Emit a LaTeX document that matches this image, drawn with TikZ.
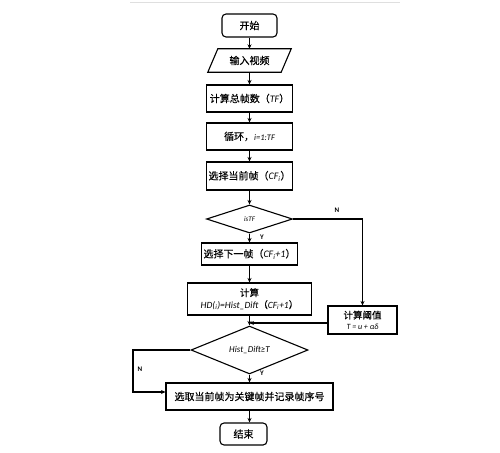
\documentclass[tikz,border=0pt]{standalone}
\usepackage{fontspec}
\setmainfont{Carlito}
\newfontfamily\cjk[FakeBold=0.25]{Noto Sans CJK SC}
\newcommand{\mylat}[1]{{\normalfont\itshape #1}}
\usetikzlibrary{shapes.geometric,arrows.meta}
\begin{document}
\begin{tikzpicture}[x=1pt,y=-1pt,
  ln/.style={line width=1.1pt},
  arr/.style={ln,-{Stealth[length=4.5pt,width=4pt]}},
  box/.style={draw,ln,inner sep=1pt,align=center,font=\cjk\fontsize{10}{12}\selectfont},
  rbox/.style={box,rounded corners=4pt},
  dia/.style={draw,ln,diamond,inner sep=0pt,align=center},
  lbl/.style={font=\fontsize{7}{8}\selectfont\bfseries,inner sep=1pt}]
\useasboundingbox (0,0) rectangle (500,452);
\fill[white] (0,0) rectangle (500,452);
\draw[gray!25,line width=1pt] (130,3) -- (400,3);
% nodes
\node[rbox,minimum width=55pt,minimum height=23pt] (start) at (249.5,25.5) {开始};
\node[minimum width=83pt,minimum height=23pt,inner sep=0pt,font=\cjk\fontsize{10}{12}\selectfont] (input) at (249.5,60.5) {输入视频};
\draw[ln] ([xshift=10pt]input.north west) -- (input.north east) -- ([xshift=-10pt]input.south east) -- (input.south west) -- cycle;
\node[box,minimum width=86pt,minimum height=27pt] (tf) at (249.5,98.5) {计算总帧数（\mylat{TF}）};
\node[box,minimum width=86pt,minimum height=27pt] (loop) at (249.5,136.5) {循环，\mylat{\fontsize{8.5}{10}\selectfont i=1:TF}};
\node[box,minimum width=86pt,minimum height=28pt] (cur) at (249.5,176) {选择当前帧（\mylat{CF\textsubscript{i}}）};
\node[dia,minimum width=86pt,minimum height=28pt,font=\fontsize{7}{8}\selectfont\itshape] (d1) at (249.5,219) {isTF};
\node[box,minimum width=96pt,minimum height=22pt] (next) at (249.5,254) {选择下一帧（\mylat{CF\textsubscript{i}+1}）};
\node[box,minimum width=124pt,minimum height=32pt,font=\cjk\fontsize{9.5}{12}\selectfont] (hd) at (249.5,299) {计算\\\mylat{HD(\textsubscript{i})=Hist\_Dift}（\mylat{CF\textsubscript{i}+1}）};
\node[box,minimum width=69pt,minimum height=28pt,font=\cjk\fontsize{9.5}{10.5}\selectfont] (thr) at (362.5,320) {计算阈值\\\mylat{\fontsize{8}{9}\selectfont T = u + αδ}};
\node[dia,minimum width=117pt,minimum height=36pt,font=\fontsize{9}{10}\selectfont\itshape] (d2) at (249.5,350) {Hist\_Dift≥T};
\node[box,minimum width=167pt,minimum height=27pt] (key) at (249.5,396.5) {选取当前帧为关键帧并记录帧序号};
\node[rbox,minimum width=47pt,minimum height=22pt] (end) at (243.5,434) {结束};
% main flow
\draw[arr] (start) -- (input);
\draw[arr] (input) -- (tf);
\draw[arr] (tf) -- (loop);
\draw[arr] (loop) -- (cur);
\draw[arr] (cur) -- (d1);
\draw[arr] (d1) -- (next);
\draw[arr] (next) -- (hd);
\draw[arr] (hd) -- (d2);
\draw[arr] (d2) -- (key);
\draw[arr] (key.south) -- (key.south |- end.north);
% N branch of isTF
\coordinate (c1) at (362.5,219);
\draw[arr] (d1.east) -- (c1) -- (thr.north);
\coordinate (j1) at (249.5,323);
\draw[arr] (thr.west |- j1) -- (j1);
% N branch of Hist_Dift
\coordinate (c2) at (133,350);
\coordinate (c3) at (133,392);
\draw[arr] (d2.west) -- (c2) -- (c3) -- (c3 -| key.west);
% labels
\node[lbl] (n1) at (337,210) {N};
\node[lbl] (y1) at (262,237) {Y};
\node[lbl] (n2) at (140,369) {N};
\node[lbl] (y2) at (262,373) {Y};
\end{tikzpicture}
\end{document}
